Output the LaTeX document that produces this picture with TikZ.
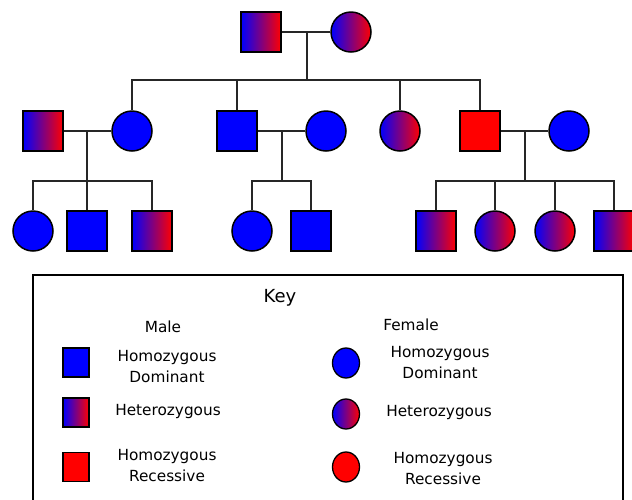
\documentclass[tikz,border=0pt]{standalone}
\usepackage{fontspec}
\setmainfont{DejaVu Sans}
\usetikzlibrary{shapes.geometric}
\begin{document}
\begin{tikzpicture}[x=1pt,y=-1pt,
  male/.style={draw=black, line width=1.5pt, rectangle, minimum width=40pt, minimum height=40pt, inner sep=0pt},
  female/.style={draw=black, line width=1.5pt, circle, minimum size=40pt, inner sep=0pt},
  keysq/.style={draw=black, line width=1.3pt, rectangle, minimum width=26pt, minimum height=29pt, inner sep=0pt},
  keyci/.style={draw=black, line width=1.3pt, ellipse, minimum width=27pt, minimum height=30pt, inner sep=0pt},
  dom/.style={fill=blue},
  rec/.style={fill=red},
  het/.style={left color=blue, right color=red},
  conn/.style={draw=black!85, line width=1.5pt},
  lbl/.style={font=\fontsize{15.3}{21}\selectfont, align=center, inner sep=0pt},
  title/.style={font=\fontsize{18}{20}\selectfont, inner sep=0pt}]
\clip (0,0) rectangle (632,499);
\fill[white] (0,0) rectangle (632,499);
% generation 1
\node[male,het] (p1) at (261,32) {};
\node[female,het] (p2) at (351,32) {};
\coordinate (c1) at (307,32);
\coordinate (s1) at (307,80);
% generation 2
\node[male,het] (a1) at (43,131) {};
\node[female,dom] (a2) at (132,131) {};
\node[male,dom] (b1) at (237,131) {};
\node[female,dom] (b2) at (326,131) {};
\node[female,het] (cc) at (400,131) {};
\node[male,rec] (d1) at (480,131) {};
\node[female,dom] (d2) at (569,131) {};
\coordinate (ca) at (87,131);
\coordinate (sa) at (87,181);
\coordinate (cb) at (282,131);
\coordinate (sb) at (282,181);
\coordinate (cd) at (525,131);
\coordinate (sd) at (525,181);
% generation 3
\node[female,dom] (a3) at (33,231) {};
\node[male,dom] (a4) at (87,231) {};
\node[male,het] (a5) at (152,231) {};
\node[female,dom] (b3) at (252,231) {};
\node[male,dom] (b4) at (311,231) {};
\node[male,het] (d3) at (436,231) {};
\node[female,het] (d4) at (495,231) {};
\node[female,het] (d5) at (555,231) {};
\node[male,het] (d6) at (614,231) {};
% connectors gen 1
\draw[conn] (p1.east) -- (p2.west);
\draw[conn] (c1) -- (s1);
\draw[conn] (a2.north) -- (a2.north |- s1) -- (d1.north |- s1) -- (d1.north);
\draw[conn] (b1.north) -- (b1.north |- s1);
\draw[conn] (cc.north) -- (cc.north |- s1);
% connectors gen 2
\draw[conn] (a1.east) -- (a2.west);
\draw[conn] (ca) -- (sa);
\draw[conn] (a3.north) -- (a3.north |- sa) -- (a5.north |- sa) -- (a5.north);
\draw[conn] (a4.north) -- (a4.north |- sa);
\draw[conn] (b1.east) -- (b2.west);
\draw[conn] (cb) -- (sb);
\draw[conn] (b3.north) -- (b3.north |- sb) -- (b4.north |- sb) -- (b4.north);
\draw[conn] (d1.east) -- (d2.west);
\draw[conn] (cd) -- (sd);
\draw[conn] (d3.north) -- (d3.north |- sd) -- (d6.north |- sd) -- (d6.north);
\draw[conn] (d4.north) -- (d4.north |- sd);
\draw[conn] (d5.north) -- (d5.north |- sd);
% key
\draw[line width=1.5pt] (33,275) rectangle (623,530);
\node[title] (kt) at (280,298) {Key};
\node[lbl] (km) at (163,327) {Male};
\node[lbl] (kf) at (411,325) {Female};
\node[keysq,dom] (k1) at (76,362.5) {};
\node[lbl] (k1t) at (167,367) {Homozygous\\Dominant};
\node[keysq,het] (k2) at (76,412.5) {};
\node[lbl] (k2t) at (168,412) {Heterozygous};
\node[keysq,rec] (k3) at (76,467) {};
\node[lbl] (k3t) at (167,466) {Homozygous\\Recessive};
\node[keyci,dom] (k4) at (346,363) {};
\node[lbl] (k4t) at (440,363) {Homozygous\\Dominant};
\node[keyci,het] (k5) at (346,414) {};
\node[lbl] (k5t) at (439,413) {Heterozygous};
\node[keyci,rec] (k6) at (346,467) {};
\node[lbl] (k6t) at (443,469) {Homozygous\\Recessive};
\end{tikzpicture}
\end{document}
